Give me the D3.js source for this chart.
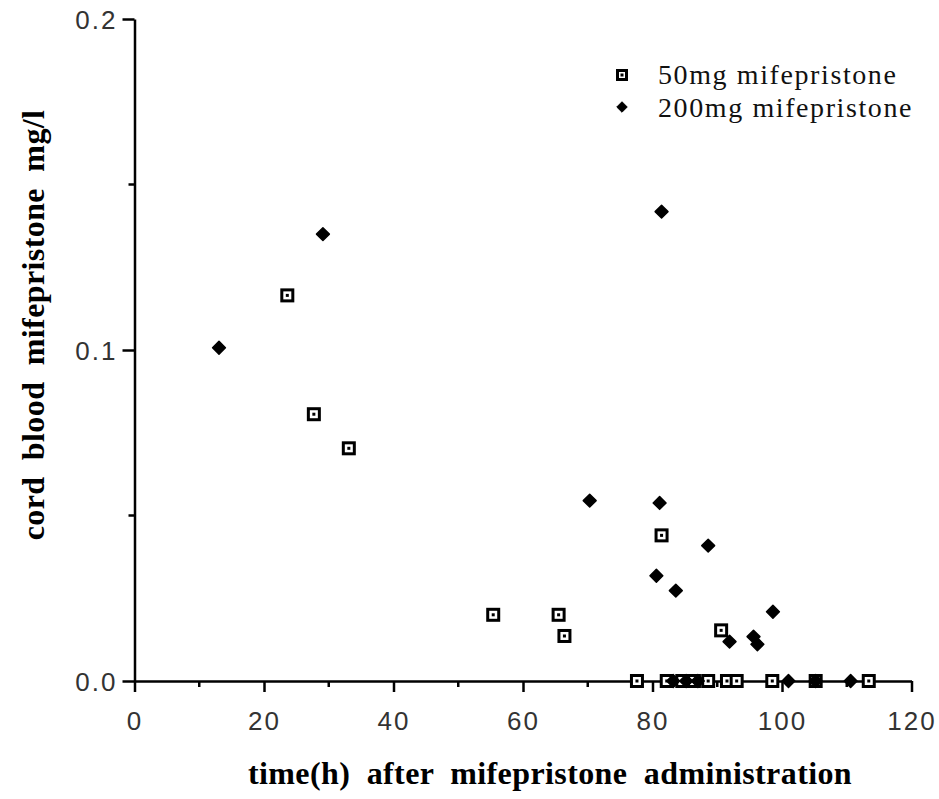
<!DOCTYPE html>
<html>
<head>
<meta charset="utf-8">
<script src="https://cdn.jsdelivr.net/npm/d3@7"></script>
<style>
  body { margin: 0; background: #fff; }
  svg { display: block; }
</style>
</head>
<body>
<div id="chart"></div>
<script>
// values
var dose50Time = [23.6, 27.7, 33.1, 55.4, 65.5, 66.4, 81.4, 90.6,
                  77.6, 82.2, 84.6, 86.4, 88.6, 91.5, 93.0, 98.5, 105.2, 113.4];
var dose50Conc = [0.1165, 0.0806, 0.0703, 0.020, 0.020, 0.0136, 0.044, 0.0153,
                  0, 0, 0, 0, 0, 0, 0, 0, 0, 0];
var dose200Time = [13.05, 29.1, 70.3, 81.1, 81.4, 88.6, 80.6, 83.6, 98.6, 91.9, 95.6, 96.2,
                   83.2, 85.2, 87.0, 101.0, 105.2, 110.6];
var dose200Conc = [0.1007, 0.135, 0.0545, 0.0538, 0.1418, 0.0409, 0.0318, 0.0273, 0.0209, 0.0119, 0.0134, 0.0111,
                   0, 0, 0, 0, 0, 0];
var xTicks = [0, 20, 40, 60, 80, 100, 120];
var xMinor = [10, 30, 50, 70, 90, 110];
var yTicks = [0, 0.1, 0.2];
var yMinor = [0.05, 0.15];
var legendLabels = ["50mg mifepristone", "200mg mifepristone"];

var width = 939, height = 799;
var svg = d3.select("#chart").append("svg")
    .attr("width", width)
    .attr("height", height);

var x = d3.scaleLinear().domain([0, 120]).range([134.5, 911.5]);
var y = d3.scaleLinear().domain([0, 0.2]).range([681, 19]);

var tickFont = "'Liberation Sans', Arial, sans-serif";
var serif = "'Liberation Serif', 'Times New Roman', serif";

/* axes */
var xAxis = svg.append("g")
    .attr("transform", "translate(0," + y(0) + ")")
    .call(d3.axisBottom(x).tickValues(xTicks).tickSize(11).tickSizeOuter(0).tickPadding(20));
xAxis.append("g").selectAll("line")
    .data(xMinor).enter().append("line")
    .attr("x1", function(d){ return x(d); })
    .attr("x2", function(d){ return x(d); })
    .attr("y1", 0).attr("y2", 6)
    .attr("stroke", "#000").attr("stroke-width", 2.5);

var yAxis = svg.append("g")
    .attr("transform", "translate(" + x(0) + ",0)")
    .call(d3.axisLeft(y).tickValues(yTicks).tickSize(12).tickSizeOuter(0).tickPadding(5)
          .tickFormat(d3.format(".1f")));
yAxis.append("g").selectAll("line")
    .data(yMinor).enter().append("line")
    .attr("y1", function(d){ return y(d); })
    .attr("y2", function(d){ return y(d); })
    .attr("x1", 0).attr("x2", -6)
    .attr("stroke", "#000").attr("stroke-width", 2.5);

svg.selectAll(".domain").attr("stroke", "#000").attr("stroke-width", 2.5);
svg.selectAll(".tick line").attr("stroke", "#000").attr("stroke-width", 2.5);
svg.selectAll(".tick text")
    .attr("font-family", tickFont)
    .attr("font-size", 26)
    .attr("letter-spacing", 2)
    .attr("fill", "#333");
yAxis.selectAll(".tick text").attr("dy", "0.36em");

/* axis titles */
svg.append("text")
    .attr("x", 550).attr("y", 784)
    .attr("text-anchor", "middle")
    .attr("font-family", serif)
    .attr("font-weight", "bold")
    .attr("font-size", 32)
    .attr("letter-spacing", 0.4)
    .attr("word-spacing", 8)
    .text("time(h) after mifepristone administration");

svg.append("text")
    .attr("transform", "translate(44,325) rotate(-90)")
    .attr("text-anchor", "middle")
    .attr("font-family", serif)
    .attr("font-weight", "bold")
    .attr("font-size", 32)
    .attr("letter-spacing", 0.4)
    .attr("word-spacing", 8)
    .text("cord blood mifepristone mg/l");

/* marker helpers */
function drawSquare(g, cx, cy, s) {
    g.append("rect")
        .attr("x", cx - s/2 + 1.5).attr("y", cy - s/2 + 1.5)
        .attr("width", s - 3).attr("height", s - 3)
        .attr("fill", "#fff").attr("stroke", "#000").attr("stroke-width", 3);
    g.append("rect")
        .attr("x", cx - 1.5).attr("y", cy - 1.5)
        .attr("width", 3).attr("height", 3)
        .attr("fill", "#000");
}
var diamond = d3.symbol().type(d3.symbolDiamond2).size(105);

var pts50 = dose50Time.map(function(t, i){ return {t: t, c: dose50Conc[i]}; });
var pts200 = dose200Time.map(function(t, i){ return {t: t, c: dose200Conc[i]}; });

/* 50mg squares */
var gSq = svg.append("g");
pts50.forEach(function(d){ drawSquare(gSq, x(d.t), y(d.c), 14); });

/* 200mg diamonds */
svg.append("g").selectAll("path")
    .data(pts200).enter().append("path")
    .attr("d", diamond)
    .attr("transform", function(d){ return "translate(" + x(d.t) + "," + y(d.c) + ")"; })
    .attr("fill", "#000")
    .attr("stroke", "#000")
    .attr("stroke-width", 1.5)
    .attr("stroke-linejoin", "round");

/* legend */
var leg = svg.append("g");
drawSquare(leg, 622, 75, 12);
leg.append("path")
    .attr("d", d3.symbol().type(d3.symbolDiamond2).size(70))
    .attr("transform", "translate(622,107)")
    .attr("fill", "#000").attr("stroke", "#000").attr("stroke-width", 1);
leg.selectAll("text")
    .data(legendLabels).enter().append("text")
    .attr("x", 658)
    .attr("y", function(d, i){ return 84 + i * 33; })
    .attr("font-family", serif)
    .attr("font-size", 28)
    .attr("letter-spacing", 1.6)
    .attr("fill", "#111")
    .text(function(d){ return d; });
</script>
</body>
</html>
